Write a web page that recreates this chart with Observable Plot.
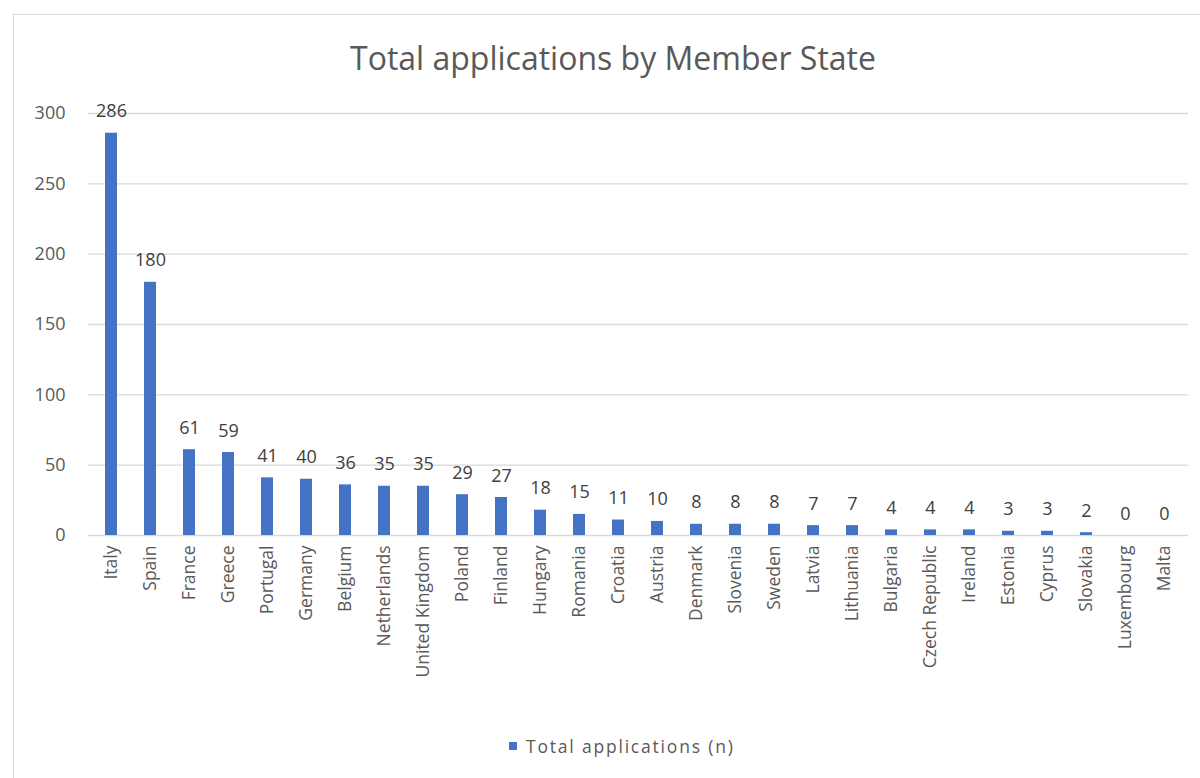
<!DOCTYPE html>
<html>
<head>
<meta charset="utf-8">
<script src="https://cdn.jsdelivr.net/npm/d3@7"></script>
<script src="https://cdn.jsdelivr.net/npm/@observablehq/plot@0.6"></script>
<style>
  html, body { margin: 0; padding: 0; background: #fff; width: 1200px; height: 778px; overflow: hidden; }
  #frame { position: absolute; left: 13px; top: 14px; width: 1200px; height: 800px;
           border-top: 1.5px solid #d9d9d9; border-left: 1.5px solid #d9d9d9; }
  #title { position: absolute; left: 0; width: 1226px; top: 36px; text-align: center;
           font-family: "Open Sans", sans-serif; font-size: 32px; color: #595959; }
  #chart { position: absolute; left: 0; top: 0; }
  #legend { position: absolute; top: 734px; left: 509px; font-family: "Open Sans", sans-serif;
            font-size: 17.5px; letter-spacing: 1.8px; color: #595959; display: flex; align-items: center; }
  #legend .sw { width: 8px; height: 8px; background: #4472C4; margin-right: 9px; }
</style>
</head>
<body>
<div id="frame"></div>
<div id="chart"></div>
<div id="title">Total applications by Member State</div>
<div id="legend"><div class="sw"></div><span>Total applications (n)</span></div>
<script>
const countries = ["Italy","Spain","France","Greece","Portugal","Germany","Belgium","Netherlands","United Kingdom","Poland","Finland","Hungary","Romania","Croatia","Austria","Denmark","Slovenia","Sweden","Latvia","Lithuania","Bulgaria","Czech Republic","Ireland","Estonia","Cyprus","Slovakia","Luxembourg","Malta"];
const applications = [286,180,61,59,41,40,36,35,35,29,27,18,15,11,10,8,8,8,7,7,4,4,4,3,3,2,0,0];
const yTicks = [0,50,100,150,200,250,300];

const data = countries.map((c, i) => ({country: c, value: applications[i]}));

const chart = Plot.plot({
  width: 1200,
  height: 720,
  marginTop: 113,
  marginBottom: 185,
  marginLeft: 88,
  marginRight: 12,
  style: {fontFamily: "'Open Sans', sans-serif", background: "transparent"},
  x: {domain: countries, paddingInner: 0.69, paddingOuter: 0.345, label: null},
  y: {domain: [0, 300], label: null},
  marks: [
    Plot.gridY(yTicks, {stroke: "#d9d9d9", strokeOpacity: 1, strokeWidth: 1.3}),
    Plot.axisY({ticks: yTicks, tickSize: 0, tickPadding: 23, fontSize: 18, color: "#595959", label: null}),
    Plot.axisX({tickSize: 0, tickPadding: 10, tickRotate: -90, fontSize: 17.5, color: "#595959", label: null}),
    Plot.barY(data, {x: "country", y: "value", fill: "#4472C4"}),
    Plot.text(data, {x: "country", y: "value", text: d => String(d.value), lineAnchor: "bottom", dy: -16, fontSize: 18, fill: "#404040"})
  ]
});
document.getElementById("chart").appendChild(chart);
</script>
</body>
</html>
